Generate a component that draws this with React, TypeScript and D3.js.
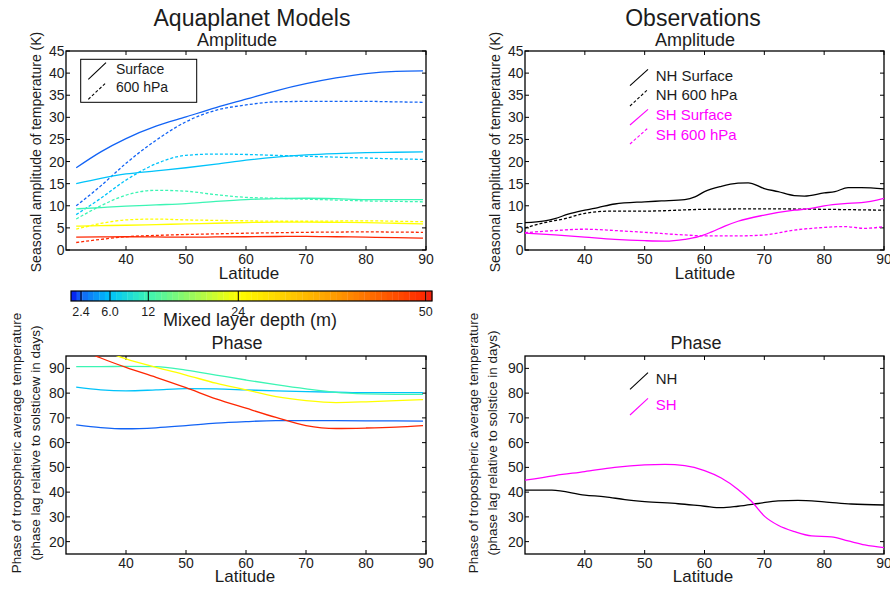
import React from 'react';
import * as d3 from 'd3';

// ---------------- DATA ----------------
const modelLat = [31.7, 35.8, 40, 45, 50, 55, 60, 65, 70, 75, 80, 85, 89.5];
const mixedLayerDepths = [2.4, 6.0, 12, 24, 50];
const depthTickLabels = ['2.4', '6.0', '12', '24', '50'];

// Amplitude, surface (K)
const ampSurf2p4 = [18.6, 22.2, 25.2, 28.0, 30.1, 32.2, 34.1, 36.0, 37.6, 38.9, 39.9, 40.4, 40.5];
const ampSurf6 = [15.0, 16.2, 17.2, 17.9, 18.6, 19.4, 20.3, 21.0, 21.5, 21.8, 22.0, 22.1, 22.2];
const ampSurf12 = [9.3, 9.6, 9.9, 10.2, 10.5, 11.0, 11.4, 11.6, 11.7, 11.6, 11.4, 11.4, 11.4];
const ampSurf24 = [5.4, 5.5, 5.6, 5.75, 5.9, 6.05, 6.2, 6.3, 6.3, 6.25, 6.2, 6.05, 5.9];
const ampSurf50 = [2.9, 2.95, 3.0, 2.95, 2.9, 2.95, 3.0, 3.05, 3.1, 3.0, 2.9, 2.8, 2.7];
// Amplitude, 600 hPa (K)
const amp600_2p4 = [10.0, 14.5, 19.6, 24.8, 29.0, 31.6, 32.8, 33.5, 33.6, 33.6, 33.6, 33.5, 33.4];
const amp600_6 = [8.0, 11.7, 15.8, 19.5, 21.4, 21.7, 21.6, 21.4, 21.2, 21.0, 20.8, 20.6, 20.5];
const amp600_12 = [7.0, 10.0, 12.4, 13.5, 13.3, 12.5, 11.9, 11.7, 11.5, 11.3, 11.1, 11.0, 10.9];
const amp600_24 = [4.7, 6.0, 6.8, 7.0, 6.8, 6.7, 6.6, 6.5, 6.5, 6.55, 6.6, 6.5, 6.4];
const amp600_50 = [1.7, 2.4, 3.0, 3.3, 3.5, 3.65, 3.8, 3.9, 4.0, 4.05, 4.1, 4.05, 4.0];
// Phase (days)
const phase2p4 = [67.2, 66.1, 65.6, 66.0, 66.9, 67.9, 68.5, 68.9, 68.9, 68.85, 68.8, 68.75, 68.7];
const phase6 = [82.4, 81.3, 80.9, 81.3, 81.8, 81.7, 81.3, 80.9, 80.6, 80.4, 80.2, 80.2, 80.2];
const phase12 = [90.7, 90.7, 90.8, 90.7, 89.3, 87.3, 85.3, 83.4, 81.7, 80.3, 79.7, 79.5, 79.5];
const phase24 = [101, 97.5, 93.8, 90.4, 87.3, 84.0, 81.3, 78.6, 77.0, 76.2, 76.5, 77.0, 77.4];
const phase50 = [98.5, 94.2, 90.4, 86.4, 82.2, 77.7, 73.9, 70.2, 66.9, 65.7, 65.9, 66.3, 66.9];

const modelAmpSurface = [ampSurf2p4, ampSurf6, ampSurf12, ampSurf24, ampSurf50];
const modelAmp600 = [amp600_2p4, amp600_6, amp600_12, amp600_24, amp600_50];
const modelPhase = [phase2p4, phase6, phase12, phase24, phase50];

// Observations
const nhSurfLat = [30, 33.3, 35, 37.2, 40, 42.2, 45, 50, 52.8, 56.7, 58.4, 60, 62.8, 65.6, 67.3, 70, 72.3, 75, 76.7, 80, 81.8, 84, 86.2, 90];
const nhSurfAmp = [6.2, 6.6, 7.1, 8.1, 9.0, 9.6, 10.4, 10.9, 11.1, 11.4, 12.0, 13.2, 14.4, 15.1, 15.2, 13.9, 13.2, 12.3, 12.2, 12.9, 13.2, 14.1, 14.1, 13.8];
const nh600Lat = [30, 33.3, 36.7, 40, 44.5, 50, 60, 70, 80, 90];
const nh600Amp = [5.0, 6.2, 7.1, 8.3, 8.8, 8.8, 9.2, 9.3, 9.2, 9.0];
const shSurfLat = [30, 35, 40, 45, 50, 53.4, 56.7, 59, 61.2, 63.4, 65.6, 70, 75, 77.8, 80, 83.4, 86.2, 90];
const shSurfAmp = [3.8, 3.4, 2.9, 2.4, 2.1, 2.0, 2.4, 3.0, 4.1, 5.4, 6.5, 7.9, 9.0, 9.4, 10.0, 10.5, 10.7, 11.7];
const sh600Lat = [30, 35, 40, 45, 50, 56.7, 60, 65.6, 70, 75, 80, 83.4, 86.8, 90];
const sh600Amp = [3.9, 4.4, 4.7, 4.4, 4.0, 3.4, 3.2, 3.2, 3.4, 4.5, 5.1, 5.3, 4.9, 5.3];
const shPhaseLat = [30, 35, 40, 45, 50, 53.4, 56.7, 60, 62.8, 65.6, 67.8, 70.1, 72.3, 75.1, 77.9, 81.2, 84, 86.8, 90];
const shPhase = [44.8, 46.7, 48.3, 50.0, 51.0, 51.2, 50.7, 48.7, 45.7, 41.1, 36.4, 30.1, 26.6, 24.0, 22.3, 21.9, 20.3, 18.7, 17.6];
const nhPhaseLat = [30, 34.5, 40, 43.4, 46.7, 50, 55.6, 60, 62.8, 65.6, 69, 72.3, 75.6, 80, 84.5, 90];
const nhPhase = [40.8, 40.8, 38.8, 38.1, 37.0, 36.2, 35.3, 34.3, 33.7, 34.3, 35.4, 36.5, 36.7, 36.1, 35.2, 34.8];

const latTicks = [40, 50, 60, 70, 80, 90];
const ampTicks = [0, 5, 10, 15, 20, 25, 30, 35, 40, 45];
const phaseTicks = [20, 30, 40, 50, 60, 70, 80, 90];

// ---------------- STYLE ----------------
const FONT = '"Liberation Sans", Arial, Helvetica, sans-serif';
const TXT = '#1c1c1c';
const MAGENTA = '#ff00ff';
const DASH = '3,2';

// colour bar layout
const CB = { x0: 71, x1: 432, y0: 291, y1: 301 };
const depthScale = d3.scaleLinear()
  .domain([1.1, 2.4, 6, 12, 24, 50, 51])
  .range([CB.x0, 81, 110, 148.3, 238.3, 425.7, CB.x1]);
const cmapStops = [0, 0.028, 0.108, 0.214, 0.463, 0.72, 0.981, 1];
const cmapColors = ['#0010ee', '#1264f5', '#00c3fa', '#3cf5b4', '#ffff00', '#ffa000', '#ff2800', '#f01e14'];
const cmap = d3.scaleLinear<string>().domain(cmapStops).range(cmapColors).interpolate(d3.interpolateRgb).clamp(true);
const depthColor = (d: number) => cmap((depthScale(d) - CB.x0) / (CB.x1 - CB.x0));

type Box = { x0: number; x1: number; y0: number; y1: number };

function Frame({ box, x, y, xt, yt, id }: { box: Box; x: any; y: any; xt: number[]; yt: number[]; id: string }) {
  const tl = 4;
  return (
    <g>
      <rect x={box.x0} y={box.y0} width={box.x1 - box.x0} height={box.y1 - box.y0} fill="none" stroke="#000" strokeWidth={1.3} />
      {xt.map((t) => (
        <g key={'x' + t}>
          <line x1={x(t)} x2={x(t)} y1={box.y1} y2={box.y1 - tl} stroke="#000" />
          <line x1={x(t)} x2={x(t)} y1={box.y0} y2={box.y0 + tl} stroke="#000" />
          <text x={x(t)} y={box.y1 + 13.5} textAnchor="middle" fontSize={14} fill={TXT}>{t}</text>
        </g>
      ))}
      {yt.map((t) => (
        <g key={'y' + t}>
          <line x1={box.x0} x2={box.x0 + tl} y1={y(t)} y2={y(t)} stroke="#000" />
          <line x1={box.x1} x2={box.x1 - tl} y1={y(t)} y2={y(t)} stroke="#000" />
          <text x={box.x0 - 1.5} y={y(t) + 5} textAnchor="end" fontSize={14} fill={TXT}>{t}</text>
        </g>
      ))}
      <clipPath id={id}>
        <rect x={box.x0} y={box.y0} width={box.x1 - box.x0} height={box.y1 - box.y0} />
      </clipPath>
    </g>
  );
}

export default function App() {
  const ampL: Box = { x0: 66, x1: 426, y0: 51, y1: 250 };
  const ampR: Box = { x0: 525, x1: 884, y0: 51, y1: 250 };
  const phL: Box = { x0: 66, x1: 426, y0: 356, y1: 554 };
  const phR: Box = { x0: 525, x1: 884, y0: 356, y1: 554 };

  const xL = d3.scaleLinear().domain([30, 90]).range([ampL.x0, ampL.x1]);
  const xR = d3.scaleLinear().domain([30, 90]).range([ampR.x0, ampR.x1]);
  const yA = d3.scaleLinear().domain([0, 45]).range([ampL.y1, ampL.y0]);
  const yP = d3.scaleLinear().domain([15, 95]).range([phL.y1, phL.y0]);

  const mk = (xs: any, ys: any, lats: number[], vals: number[]) =>
    d3.line<number>().x((_, i) => xs(lats[i])).y((v) => ys(v)).curve(d3.curveMonotoneX)(vals) || '';

  const nBlocks = 64;
  const bw = (CB.x1 - CB.x0) / nBlocks;
  const blocks = d3.range(nBlocks).map((i) => ({ x: CB.x0 + i * bw, c: cmap((i + 0.5) / nBlocks) }));

  const lw = 1.3;

  return (
    <svg width={890} height={590} style={{ position: 'absolute', left: 0, top: 0, fontFamily: FONT }} >
      <rect width={890} height={590} fill="#fff" />
      {/* Titles */}
      <text x={252} y={26} textAnchor="middle" fontSize={23} fill={TXT}>Aquaplanet Models</text>
      <text x={693} y={26} textAnchor="middle" fontSize={23} fill={TXT}>Observations</text>
      <text x={237} y={46} textAnchor="middle" fontSize={18} fill={TXT}>Amplitude</text>
      <text x={695} y={46} textAnchor="middle" fontSize={18} fill={TXT}>Amplitude</text>
      <text x={237} y={348.5} textAnchor="middle" fontSize={18} fill={TXT}>Phase</text>
      <text x={696} y={348.5} textAnchor="middle" fontSize={18} fill={TXT}>Phase</text>

      {/* Top-left: model amplitude */}
      <Frame box={ampL} x={xL} y={yA} xt={latTicks} yt={ampTicks} id="clipAL" />
      <g clipPath="url(#clipAL)" fill="none">
        {mixedLayerDepths.map((d, k) => (
          <g key={'as' + d}>
            <path d={mk(xL, yA, modelLat, modelAmpSurface[k])} stroke={depthColor(d)} strokeWidth={lw} />
            <path d={mk(xL, yA, modelLat, modelAmp600[k])} stroke={depthColor(d)} strokeWidth={lw} strokeDasharray={DASH} />
          </g>
        ))}
      </g>
      <rect x={80.7} y={59.3} width={116} height={43} fill="#fff" stroke="#000" strokeWidth={1} />
      <line x1={88.3} y1={79.3} x2={106} y2={62.7} stroke="#000" strokeWidth={1.1} />
      <line x1={88.3} y1={99.3} x2={106} y2={82.7} stroke="#000" strokeWidth={1.1} strokeDasharray={DASH} />
      <text x={116} y={74} fontSize={14} fill={TXT}>Surface</text>
      <text x={116} y={92.3} fontSize={14} fill={TXT}>600 hPa</text>
      <text x={249} y={279} textAnchor="middle" fontSize={17} fill={TXT}>Latitude</text>
      <text transform="translate(41,152) rotate(-90)" textAnchor="middle" fontSize={14} fill={TXT}>Seasonal amplitude of temperature (K)</text>

      {/* Top-right: observed amplitude */}
      <Frame box={ampR} x={xR} y={yA} xt={latTicks} yt={ampTicks} id="clipAR" />
      <g clipPath="url(#clipAR)" fill="none">
        <path d={mk(xR, yA, nhSurfLat, nhSurfAmp)} stroke="#000" strokeWidth={lw} />
        <path d={mk(xR, yA, nh600Lat, nh600Amp)} stroke="#000" strokeWidth={lw} strokeDasharray={DASH} />
        <path d={mk(xR, yA, shSurfLat, shSurfAmp)} stroke={MAGENTA} strokeWidth={lw} />
        <path d={mk(xR, yA, sh600Lat, sh600Amp)} stroke={MAGENTA} strokeWidth={lw} strokeDasharray={DASH} />
      </g>
      <line x1={630} y1={85.7} x2={648} y2={69.3} stroke="#000" strokeWidth={1.1} />
      <line x1={630} y1={106} x2={648} y2={89.3} stroke="#000" strokeWidth={1.1} strokeDasharray={DASH} />
      <line x1={630} y1={125} x2={648} y2={109.3} stroke={MAGENTA} strokeWidth={1.1} />
      <line x1={630} y1={144} x2={648} y2={128} stroke={MAGENTA} strokeWidth={1.1} strokeDasharray={DASH} />
      <text x={655.7} y={80.7} fontSize={15} fill={TXT}>NH Surface</text>
      <text x={655.7} y={100} fontSize={15} fill={TXT}>NH 600 hPa</text>
      <text x={655.7} y={120} fontSize={15} fill={MAGENTA}>SH Surface</text>
      <text x={655.7} y={140} fontSize={15} fill={MAGENTA}>SH 600 hPa</text>
      <text x={705} y={279} textAnchor="middle" fontSize={17} fill={TXT}>Latitude</text>
      <text transform="translate(500,152) rotate(-90)" textAnchor="middle" fontSize={14} fill={TXT}>Seasonal amplitude of temperature (K)</text>

      {/* Colour bar */}
      {blocks.map((b, i) => (
        <rect key={'cb' + i} x={b.x} y={CB.y0} width={bw + 0.3} height={CB.y1 - CB.y0} fill={b.c} />
      ))}
      <rect x={CB.x0} y={CB.y0} width={CB.x1 - CB.x0} height={CB.y1 - CB.y0} fill="none" stroke="#000" strokeWidth={1.2} />
      {mixedLayerDepths.map((d, i) => (
        <g key={'cbt' + d}>
          <line x1={depthScale(d)} x2={depthScale(d)} y1={CB.y0} y2={CB.y1} stroke="#000" strokeWidth={1} />
          <text x={depthScale(d)} y={315.5} textAnchor="middle" fontSize={12.5} fill={TXT}>{depthTickLabels[i]}</text>
        </g>
      ))}
      <text x={250} y={326} textAnchor="middle" fontSize={18} fill={TXT}>Mixed layer depth (m)</text>

      {/* Bottom-left: model phase */}
      <Frame box={phL} x={xL} y={yP} xt={latTicks} yt={phaseTicks} id="clipPL" />
      <g clipPath="url(#clipPL)" fill="none">
        {mixedLayerDepths.map((d, k) => (
          <path key={'ph' + d} d={mk(xL, yP, modelLat, modelPhase[k])} stroke={depthColor(d)} strokeWidth={lw} />
        ))}
      </g>
      <text x={245} y={582} textAnchor="middle" fontSize={17} fill={TXT}>Latitude</text>
      <text transform="translate(21,443) rotate(-90)" textAnchor="middle" fontSize={13.5} fill={TXT}>Phase of tropospheric average temperature</text>
      <text transform="translate(39.5,443) rotate(-90)" textAnchor="middle" fontSize={13.5} fill={TXT}>(phase lag relative to solsticew in days)</text>

      {/* Bottom-right: observed phase */}
      <Frame box={phR} x={xR} y={yP} xt={latTicks} yt={phaseTicks} id="clipPR" />
      <g clipPath="url(#clipPR)" fill="none">
        <path d={mk(xR, yP, nhPhaseLat, nhPhase)} stroke="#000" strokeWidth={lw} />
        <path d={mk(xR, yP, shPhaseLat, shPhase)} stroke={MAGENTA} strokeWidth={lw} />
      </g>
      <line x1={630} y1={389.3} x2={648} y2={372.7} stroke="#000" strokeWidth={1.1} />
      <line x1={630} y1={415} x2={648} y2={398.3} stroke={MAGENTA} strokeWidth={1.1} />
      <text x={655.7} y={384} fontSize={15} fill={TXT}>NH</text>
      <text x={655.7} y={410} fontSize={15} fill={MAGENTA}>SH</text>
      <text x={703} y={582} textAnchor="middle" fontSize={17} fill={TXT}>Latitude</text>
      <text transform="translate(478,443) rotate(-90)" textAnchor="middle" fontSize={13.5} fill={TXT}>Phase of tropospheric average temperature</text>
      <text transform="translate(496.5,443) rotate(-90)" textAnchor="middle" fontSize={13.5} fill={TXT}>(phase lag relative to solstice in days)</text>
    </svg>
  );
}
